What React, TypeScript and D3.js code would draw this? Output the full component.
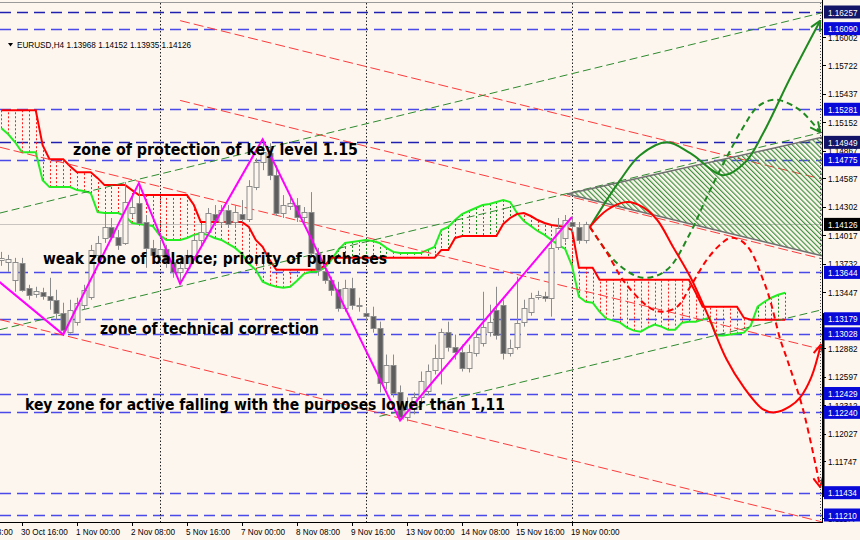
import React from 'react';
import * as d3 from 'd3';

// ---------- data ----------
const levelPrices = [1.16257, 1.1609, 1.15281, 1.14949, 1.14775, 1.13644, 1.13179, 1.13028, 1.12429, 1.1224, 1.11434, 1.1121];
const darkLevels = [1.16257, 1.14949];
const tickPrices = [1.16002, 1.15722, 1.15437, 1.15152, 1.14867, 1.14587, 1.14302, 1.14017, 1.13732, 1.13447, 1.12882, 1.12597, 1.12312, 1.12027, 1.11747, 1.11177];
const currentPrice = 1.14126;

const xLabels = ['29 Oct 08:00', '30 Oct 16:00', '1 Nov 00:00', '2 Nov 08:00', '5 Nov 16:00', '7 Nov 00:00', '8 Nov 08:00', '9 Nov 16:00', '13 Nov 00:00', '14 Nov 08:00', '15 Nov 16:00', '19 Nov 00:00'];
const xLabelBars = [-8, 0, 8, 16, 24, 32, 40, 48, 56, 64, 72, 80];
const separatorBars = [20, 50, 80];

const FIRST_BAR = -3;
const opens = [1.1377, 1.1375, 1.1357, 1.1374, 1.1349, 1.1343, 1.1345, 1.1341, 1.1337, 1.1324,
  1.1305, 1.1315, 1.1332, 1.134, 1.1382, 1.1399, 1.141, 1.14, 1.1394, 1.1424,
  1.1434, 1.1415, 1.1389, 1.1382, 1.1388, 1.1375, 1.1365, 1.1369, 1.1381, 1.1397,
  1.1405, 1.1423, 1.1415, 1.1427, 1.1415, 1.1423, 1.1418, 1.145, 1.1475, 1.1484,
  1.1462, 1.1424, 1.1431, 1.1432, 1.142, 1.1425, 1.1384, 1.1366, 1.1357, 1.1348,
  1.1329, 1.1349, 1.1332, 1.1324, 1.1321, 1.1309, 1.1255, 1.1272, 1.1244, 1.1219,
  1.1227, 1.1239, 1.1245, 1.1267, 1.1279, 1.1305, 1.129, 1.1285, 1.1269, 1.1284,
  1.1294, 1.1305, 1.1327, 1.1332, 1.1284, 1.129, 1.1315, 1.1325, 1.134, 1.1341,
  1.1339, 1.139, 1.1399, 1.1415, 1.141, 1.13968];
const highs = [1.1385, 1.1382, 1.1379, 1.1379, 1.1352, 1.135, 1.1349, 1.1359, 1.1347, 1.1334,
  1.1337, 1.1339, 1.1352, 1.1392, 1.1401, 1.1424, 1.1419, 1.1407, 1.1455, 1.1442,
  1.1454, 1.1422, 1.1397, 1.1397, 1.1392, 1.1382, 1.1379, 1.1387, 1.1402, 1.1412,
  1.1429, 1.1432, 1.1432, 1.1432, 1.1432, 1.1437, 1.1457, 1.1479, 1.1498, 1.1494,
  1.1472, 1.1442, 1.1441, 1.1439, 1.143, 1.1445, 1.1389, 1.1372, 1.136, 1.1355,
  1.1357, 1.1359, 1.1339, 1.1329, 1.133, 1.1315, 1.1282, 1.1282, 1.1251, 1.1239,
  1.1244, 1.1265, 1.1272, 1.1292, 1.1308, 1.1315, 1.1302, 1.1292, 1.1292, 1.1307,
  1.1345, 1.1332, 1.135, 1.1337, 1.1297, 1.136, 1.1337, 1.1344, 1.1346, 1.1345,
  1.1397, 1.1419, 1.1422, 1.142, 1.1415, 1.14152];
const lows = [1.1371, 1.1365, 1.1345, 1.1345, 1.1337, 1.1339, 1.1337, 1.1327, 1.1317, 1.1302,
  1.1303, 1.1311, 1.1327, 1.1337, 1.1379, 1.1394, 1.1397, 1.1387, 1.1392, 1.1419,
  1.1411, 1.1369, 1.1375, 1.1377, 1.1369, 1.1359, 1.1353, 1.1365, 1.1377, 1.1391,
  1.1401, 1.1411, 1.1411, 1.1409, 1.1409, 1.1415, 1.1415, 1.1447, 1.1467, 1.1457,
  1.1421, 1.1419, 1.1427, 1.1415, 1.1414, 1.1379, 1.1361, 1.1353, 1.1341, 1.1325,
  1.1325, 1.1327, 1.1325, 1.1315, 1.1304, 1.1244, 1.1247, 1.1239, 1.1216, 1.1215,
  1.1222, 1.1235, 1.1241, 1.1262, 1.1252, 1.1285, 1.1277, 1.1265, 1.1264, 1.128,
  1.129, 1.13, 1.1297, 1.1277, 1.128, 1.1287, 1.131, 1.1321, 1.1337, 1.1335,
  1.132, 1.1387, 1.1395, 1.1405, 1.1393, 1.13935];
const closes = [1.1379, 1.1378, 1.1375, 1.1347, 1.1342, 1.1346, 1.1341, 1.1337, 1.1324, 1.1307,
  1.1327, 1.1334, 1.1347, 1.1387, 1.1394, 1.141, 1.14, 1.1392, 1.1435, 1.143,
  1.1414, 1.1389, 1.1382, 1.1388, 1.1375, 1.1365, 1.1369, 1.1382, 1.1397, 1.1405,
  1.1424, 1.1417, 1.1427, 1.1413, 1.1425, 1.1418, 1.1451, 1.1475, 1.1485, 1.1462,
  1.1424, 1.1432, 1.1434, 1.142, 1.1425, 1.1384, 1.1367, 1.1357, 1.1347, 1.1329,
  1.1349, 1.1332, 1.1331, 1.1321, 1.1309, 1.1254, 1.1272, 1.1244, 1.1219, 1.1227,
  1.1239, 1.1255, 1.1265, 1.1279, 1.1305, 1.129, 1.1285, 1.1269, 1.1285, 1.13,
  1.131, 1.1315, 1.1302, 1.1284, 1.1289, 1.1314, 1.1329, 1.1339, 1.1342, 1.1339,
  1.1389, 1.1409, 1.1417, 1.1411, 1.1397, 1.14126];

const CLOUD_START = -3;
const spanA = [1.1509, 1.1503, 1.1495, 1.1485, 1.1485, 1.1485, 1.1457, 1.145, 1.145, 1.145,
  1.145, 1.1447, 1.1446, 1.1444, 1.1425, 1.1424, 1.1424, 1.1424, 1.1421, 1.1414,
  1.1413, 1.1412, 1.1411, 1.1402, 1.1397, 1.1397, 1.1397, 1.1399, 1.1402, 1.1404,
  1.1402, 1.1399, 1.1397, 1.1393, 1.1389, 1.1383, 1.1373, 1.1367, 1.1355, 1.1352,
  1.135, 1.1349, 1.135, 1.1356, 1.1363, 1.1365, 1.1365, 1.1369, 1.1377, 1.1387,
  1.1394, 1.1395, 1.1396, 1.1397, 1.1396, 1.1394, 1.1389, 1.1385, 1.1384, 1.1384,
  1.1384, 1.1384, 1.1387, 1.139, 1.1407, 1.141, 1.1417, 1.1423, 1.1426, 1.1429,
  1.1432, 1.1433, 1.1435, 1.1437, 1.1435, 1.1424, 1.1416, 1.1411, 1.1406, 1.1402,
  1.1397, 1.1392, 1.1388, 1.1371, 1.134, 1.1335, 1.1334, 1.1325, 1.1318, 1.1316,
  1.1314, 1.1309, 1.1306, 1.1305, 1.1309, 1.1312, 1.131, 1.1307, 1.1307, 1.1314,
  1.1315, 1.1315, 1.1317, 1.1319, 1.1301, 1.1301, 1.1302, 1.1303, 1.1304, 1.1311,
  1.133, 1.1335, 1.1339, 1.1342, 1.1344];
const spanB = [1.1527, 1.1527, 1.1527, 1.1527, 1.1527, 1.1527, 1.1492, 1.1478, 1.1478, 1.1478,
  1.1471, 1.1465, 1.1465, 1.1465, 1.1459, 1.1452, 1.1452, 1.1452, 1.1452, 1.1447,
  1.1442, 1.1442, 1.1442, 1.1442, 1.1442, 1.1442, 1.1442, 1.1442, 1.1432, 1.1415,
  1.1415, 1.1415, 1.1415, 1.1415, 1.1415, 1.1415, 1.141, 1.1397, 1.139, 1.1377,
  1.1367, 1.1367, 1.1367, 1.1367, 1.1367, 1.1367, 1.1367, 1.1371, 1.1379, 1.1379,
  1.1379, 1.1379, 1.1379, 1.1379, 1.1379, 1.1379, 1.1379, 1.1379, 1.1379, 1.1379,
  1.1379, 1.1379, 1.1379, 1.1379, 1.1387, 1.1387, 1.1399, 1.1401, 1.1401, 1.1401,
  1.1401, 1.1401, 1.1401, 1.1413, 1.1419, 1.1423, 1.1424, 1.1421, 1.1417, 1.1414,
  1.1412, 1.1411, 1.141, 1.1407, 1.1369, 1.1369, 1.1369, 1.1357, 1.1357, 1.1357,
  1.1357, 1.1357, 1.1357, 1.1357, 1.1357, 1.1357, 1.1357, 1.1357, 1.1357, 1.1357,
  1.1357, 1.1344, 1.133, 1.133, 1.133, 1.133, 1.133, 1.133, 1.1319, 1.1317,
  1.1317, 1.1317, 1.1317, 1.1317, 1.1317];

const zigzagBars = [-4, 6, 17, 23, 35, 55, 80];
const zigzagPrices = [1.1359, 1.1302, 1.1454, 1.1353, 1.1498, 1.1216, 1.142];

// trend lines: [bar1, price1, bar2, price2]
const redChannel = [
  [23, 1.1617, 116.4, 1.1458],
  [23, 1.1537, 116.4, 1.1378],
  [-3.2, 1.149, 116.4, 1.1287],
  [-3.2, 1.1317, 116.4, 1.1114],
];
const greenChannel = [
  [-3.2, 1.1424, 116.4, 1.1625],
  [-3.2, 1.1307, 116.4, 1.1505],
  [52, 1.122, 116.4, 1.1327],
];
const triangleBars = [79.3, 116.4, 116.4];
const trianglePrices = [1.1443, 1.15, 1.1381];

const greenSolidBars = [82.6, 87.0, 89.9, 93.8, 97.2, 102.0, 105.2, 107.8, 111.7, 116.1];
const greenSolidPrices = [1.141, 1.1457, 1.1482, 1.1495, 1.1484, 1.1462, 1.1475, 1.1504, 1.1559, 1.1617];
const greenDashBars = [82.6, 86.5, 90.3, 93.8, 97.2, 99.6, 102.5, 104.9, 106.9, 108.8, 110.3, 113.2, 116.1];
const greenDashPrices = [1.141, 1.1374, 1.1359, 1.1367, 1.1404, 1.144, 1.148, 1.151, 1.153, 1.1537, 1.1537, 1.1527, 1.1505];
const redSolidBars = [82.6, 85.1, 88.0, 90.3, 92.4, 94.7, 97.2, 99.6, 102.5, 104.9, 107.8, 109.5, 111.7, 113.2, 114.8, 116.2];
const redSolidPrices = [1.141, 1.1427, 1.1435, 1.143, 1.1417, 1.139, 1.136, 1.1324, 1.1277, 1.125, 1.1227, 1.1224, 1.123, 1.1239, 1.1259, 1.1292];
const redDashBars = [82.6, 85.1, 87.4, 89.9, 91.8, 93.2, 95.3, 97.2, 99.6, 101.5, 103.0, 104.4, 105.9, 107.8, 108.8, 110.3, 111.3, 113.6, 116.1];
const redDashPrices = [1.141, 1.1384, 1.1357, 1.1337, 1.1327, 1.1325, 1.133, 1.135, 1.1377, 1.1392, 1.1399, 1.1397, 1.1387, 1.1357, 1.1337, 1.1297, 1.1277, 1.1227, 1.1149];

const headerText = 'EURUSD,H4  1.13968 1.14152 1.13935 1.14126';
const annotations = [
  'zone of protection of key level 1.15',
  'weak zone of balance; priority of purchases',
  'zone of technical correction',
  'key zone for active falling with the purposes lower than 1,11',
];

// ---------- drawing ----------
const BG = '#fdf6ef';
const PR = 822;
const PB = 522;

export default function App() {
  const x = d3.scaleLinear().domain([0, 80]).range([22, 572]);
  const y = d3.scaleLinear().domain([1.1121, 1.16257]).range([515, 12]);

  const linePath = d3.line<[number, number]>().x((d) => x(d[0])).y((d) => y(d[1]));
  const curvePath = d3
    .line<[number, number]>()
    .x((d) => x(d[0]))
    .y((d) => y(d[1]))
    .curve(d3.curveCatmullRom.alpha(0.5));

  const zip = (a: number[], b: number[]) => a.map((v, i) => [v, b[i]] as [number, number]);
  const cloudA = spanA.map((v, k) => [CLOUD_START + k, v] as [number, number]);
  const cloudB = spanB.map((v, k) => [CLOUD_START + k, v] as [number, number]);

  const annPos = [
    [73, 155],
    [43, 264],
    [100, 334],
    [25, 410],
  ];
  const annLen = [285, 344, 219, 480];

  const sx = (v: number) => Math.round(v) + 0.5;

  return (
    <svg
      width={860}
      height={540}
      style={{ position: 'fixed', left: 0, top: 0, background: BG }}
      fontFamily="'Liberation Sans', Arial, sans-serif"
    >
      <defs>
        <clipPath id="plot">
          <rect x={0} y={3} width={PR} height={PB - 3} />
        </clipPath>
        <pattern id="hatch" width="3.6" height="3.6" patternUnits="userSpaceOnUse" patternTransform="rotate(-45)">
          <line x1="0.6" y1="0" x2="0.6" y2="3.6" stroke="#2f8a2f" strokeWidth="1.1" />
        </pattern>
        <marker id="arG" viewBox="0 0 12 12" refX="11" refY="6" markerWidth="12" markerHeight="12" markerUnits="userSpaceOnUse" orient="auto">
          <path d="M1,1 L11,6 L1,11" fill="none" stroke="#1f8a1f" strokeWidth="2" />
        </marker>
        <marker id="arR" viewBox="0 0 12 12" refX="11" refY="6" markerWidth="12" markerHeight="12" markerUnits="userSpaceOnUse" orient="auto">
          <path d="M1,1 L11,6 L1,11" fill="none" stroke="#ff0000" strokeWidth="2" />
        </marker>
      </defs>
      <rect x={0} y={0} width={860} height={540} fill={BG} />

      <g clipPath="url(#plot)">
        {/* bid line */}
        <line x1={0} x2={PR} y1={sx(y(currentPrice))} y2={sx(y(currentPrice))} stroke="#c9c4c0" strokeWidth={1} />
        {/* horizontal levels */}
        {levelPrices.map((p) => {
          const dark = darkLevels.includes(p);
          return (
            <line
              key={p}
              x1={0}
              x2={PR}
              y1={sx(y(p))}
              y2={sx(y(p))}
              stroke={dark ? '#2020b0' : '#4a4ae8'}
              strokeWidth={dark ? 1.3 : 1.6}
              strokeDasharray="11,6"
            />
          );
        })}
        {/* week separators */}
        {separatorBars.map((b) => (
          <line key={b} x1={sx(x(b))} x2={sx(x(b))} y1={3} y2={PB} stroke="#222" strokeWidth={1} strokeDasharray="1.5,2" />
        ))}

        {/* cloud hatching */}
        {spanA.map((a, k) => {
          const b = spanB[k];
          const xx = sx(x(CLOUD_START + k));
          return (
            <line
              key={'h' + k}
              x1={xx}
              x2={xx}
              y1={y(a)}
              y2={y(b)}
              stroke={b > a ? '#ff2020' : '#1e8c1e'}
              strokeWidth={1}
              strokeDasharray="2,2"
            />
          );
        })}
        <path d={linePath(cloudA) || ''} fill="none" stroke="#22ee22" strokeWidth={2} />
        <path d={linePath(cloudB) || ''} fill="none" stroke="#ff0000" strokeWidth={2} />

        {/* channels */}
        {redChannel.map((l, k) => (
          <line key={'r' + k} x1={x(l[0])} y1={y(l[1])} x2={x(l[2])} y2={y(l[3])} stroke="#ff3b3b" strokeWidth={1} strokeDasharray="10,4" />
        ))}
        {greenChannel.map((l, k) => (
          <line key={'g' + k} x1={x(l[0])} y1={y(l[1])} x2={x(l[2])} y2={y(l[3])} stroke="#2e8b2e" strokeWidth={1} strokeDasharray="8,4" />
        ))}

        {/* candles */}
        {opens.map((o, k) => {
          const c = closes[k];
          const cx = sx(x(FIRST_BAR + k));
          const bull = c >= o;
          const top = y(Math.max(o, c));
          const bot = y(Math.min(o, c));
          return (
            <g key={'c' + k}>
              <line x1={cx} x2={cx} y1={y(highs[k])} y2={y(lows[k])} stroke="#8c8c8c" strokeWidth={1} />
              <rect
                x={cx - 2.5}
                y={Math.round(top) + 0.5}
                width={5}
                height={Math.max(1, Math.round(bot - top))}
                fill={bull ? BG : '#5e5e5e'}
                stroke="#8c8c8c"
                strokeWidth={1}
              />
            </g>
          );
        })}

        {/* zigzag */}
        <path d={linePath(zip(zigzagBars, zigzagPrices)) || ''} fill="none" stroke="#ff00ff" strokeWidth={2} />

        {/* hatched triangle */}
        <path
          d={(linePath(zip(triangleBars, trianglePrices)) || '') + 'Z'}
          fill="url(#hatch)"
          stroke="none"
        />
        <path d={linePath([[triangleBars[1], trianglePrices[1]], [triangleBars[0], trianglePrices[0]], [triangleBars[2], trianglePrices[2]]]) || ''} fill="none" stroke="#707070" strokeWidth={1.5} />

        {/* forecast curves */}
        <path d={curvePath(zip(greenSolidBars, greenSolidPrices)) || ''} fill="none" stroke="#1f8a1f" strokeWidth={2} markerEnd="url(#arG)" />
        <path d={curvePath(zip(greenDashBars, greenDashPrices)) || ''} fill="none" stroke="#1f8a1f" strokeWidth={2} strokeDasharray="6,4" markerEnd="url(#arG)" />
        <path d={curvePath(zip(redSolidBars, redSolidPrices)) || ''} fill="none" stroke="#ff0000" strokeWidth={2} markerEnd="url(#arR)" />
        <path d={curvePath(zip(redDashBars, redDashPrices)) || ''} fill="none" stroke="#ff0000" strokeWidth={2} strokeDasharray="6,4" markerEnd="url(#arR)" />

        {/* annotations */}
        {annotations.map((t, k) => (
          <text
            key={'a' + k}
            x={annPos[k][0]}
            y={annPos[k][1]}
            fontFamily="'Comic Sans MS', 'DejaVu Sans', sans-serif"
            fontWeight="bold"
            fontSize={15}
            fill="#000"
            textLength={annLen[k]}
            lengthAdjust="spacingAndGlyphs"
          >
            {t}
          </text>
        ))}
      </g>

      {/* header */}
      <path d="M8,43 L13,43 L10.5,46.5 Z" fill="#000" />
      <text transform="translate(17,48) scale(0.86,1)" fontSize={9.5} fill="#000">
        {headerText}
      </text>

      {/* frame */}
      <line x1={0} x2={PR} y1={2.5} y2={2.5} stroke="#9a9a9a" strokeWidth={1} />
      <line x1={820.5} x2={820.5} y1={3} y2={PB} stroke="#555" strokeWidth={1} strokeDasharray="1,2" />
      <line x1={822.5} x2={822.5} y1={0} y2={PB} stroke="#000" strokeWidth={1} />
      <line x1={823.5} x2={823.5} y1={313} y2={497} stroke="#000" strokeWidth={2} />
      <line x1={0} x2={PR + 1} y1={PB + 0.5} y2={PB + 0.5} stroke="#000" strokeWidth={1} />

      {/* right axis ticks */}
      {tickPrices.map((p) => (
        <g key={'t' + p}>
          <line x1={822} x2={826} y1={sx(y(p))} y2={sx(y(p))} stroke="#000" />
          <text transform={`translate(828,${y(p) + 3.5}) scale(0.86,1)`} fontSize={9.5} fill="#000">
            {p.toFixed(5)}
          </text>
        </g>
      ))}
      {levelPrices.map((p) => {
        const dark = darkLevels.includes(p);
        return (
          <g key={'l' + p}>
            <rect x={824} y={y(p) - 6.5} width={36} height={13} fill={dark ? '#141466' : '#0a0ad8'} />
            <text transform={`translate(828,${y(p) + 3.5}) scale(0.86,1)`} fontSize={9.5} fill="#fff">
              {p.toFixed(5)}
            </text>
          </g>
        );
      })}
      <g>
        <rect x={824} y={y(currentPrice) - 6.5} width={36} height={13} fill="#000" />
        <text transform={`translate(828,${y(currentPrice) + 3.5}) scale(0.86,1)`} fontSize={9.5} fill="#fff">
          {currentPrice.toFixed(5)}
        </text>
      </g>

      {/* bottom axis */}
      {xLabelBars.map((b, k) => (
        <g key={'x' + b}>
          <line x1={sx(x(b))} x2={sx(x(b))} y1={PB} y2={PB + 4} stroke="#000" />
          <text transform={`translate(${x(b) - 1},535) scale(0.86,1)`} fontSize={9.5} fill="#000">
            {xLabels[k]}
          </text>
        </g>
      ))}
    </svg>
  );
}
